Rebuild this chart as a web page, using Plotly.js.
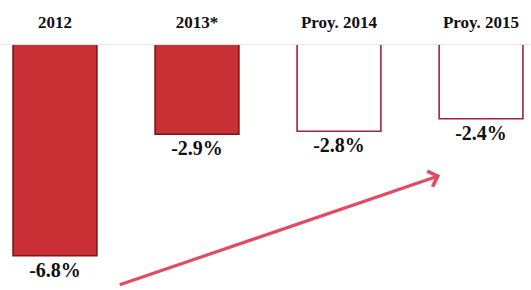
<!DOCTYPE html>
<html>
<head>
<meta charset="utf-8">
<script src="https://cdn.plot.ly/plotly-3.0.1.min.js"></script>
<style>html,body{margin:0;padding:0;background:#fff;}#chart{width:531px;height:290px;}</style>
</head>
<body>
<div id="chart"></div>
<script>
// Data
const categories = ["2012", "2013*", "Proy. 2014", "Proy. 2015"];
const values = [-6.8, -2.9, -2.8, -2.4];
const valueLabels = ["-6.8%", "-2.9%", "-2.8%", "-2.4%"];
const isProjection = [false, false, true, true];

const fills = isProjection.map(p => p ? "#ffffff" : "#c93036");
const edges = isProjection.map(p => p ? "#a8203c" : "#7e1414");

const trace = {
  type: "bar",
  x: categories,
  y: values,
  text: valueLabels,
  textposition: "outside",
  cliponaxis: false,
  textfont: {family: "Liberation Serif, Times New Roman, serif", size: 20, color: "#111", weight: "bold"},
  marker: {color: fills, line: {color: edges, width: 1.6}},
  hoverinfo: "none"
};

const layout = {
  width: 531, height: 290,
  margin: {l: 0, r: 0, t: 44, b: 0},
  paper_bgcolor: "#fff", plot_bgcolor: "#fff",
  showlegend: false,
  bargap: 0.41,
  xaxis: {
    side: "top", type: "category",
    range: [-0.387, 3.352],
    showgrid: false, zeroline: false, showline: false,
    ticks: "outside", ticklen: 8, tickcolor: "rgba(0,0,0,0)",
    tickfont: {family: "Liberation Serif, Times New Roman, serif", size: 17, color: "#111", weight: "bold"}
  },
  yaxis: {
    range: [-7.9, 0],
    showgrid: false, zeroline: false, showline: false, showticklabels: false, ticks: ""
  },
  shapes: [{
    type: "line", xref: "paper", yref: "y", x0: 0, x1: 1, y0: 0, y1: 0,
    line: {color: "#e6e6e6", width: 2}, layer: "above"
  }],
  annotations: [{
    xref: "paper", yref: "paper", x: 0.829, y: 0.466,
    ax: -322, ay: 110, text: "", showarrow: true,
    arrowhead: 4, arrowsize: 1, arrowwidth: 3.2, arrowcolor: "#e24c62", standoff: 0
  }]
};

Plotly.newPlot("chart", [trace], layout, {displayModeBar: false, staticPlot: true});
</script>
</body>
</html>
